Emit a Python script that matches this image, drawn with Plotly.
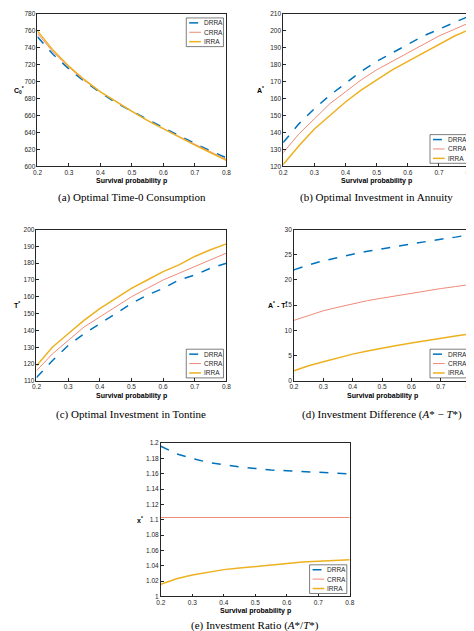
import plotly.graph_objects as go

p = [0.2,0.25,0.3,0.35,0.4,0.45,0.5,0.55,0.6,0.65,0.7,0.75,0.8]
series = ["DRRA","CRRA","IRRA"]
c0_drra = [753,732,715,700,687,675,665,655,645,636,627,618,610]
c0_crra = [757,735,717,701,688,676,665,654,644,635,626,617,608]
c0_irra = [760,737,718,702,688,676,665,654,644,634,625,616,607]
a_drra = [134,145,154,162,169,176,182,187,192,197,201,205,209]
a_crra = [128,139,148,157,164,171,177,182,187,192,197,201,205]
a_irra = [121,132,142,150,158,165,171,177,182,187,192,197,201]
t_drra = [112,122,131,138,144,150,156,161,165,170,173,177,180]
t_crra = [116,126,134,142,148,154,160,165,170,174,178,182,186]
t_irra = [119,130,138,146,153,159,165,170,175,179,184,188,191.5]
d_drra = [22,23,23.8,24.5,25.1,25.7,26.2,26.7,27.2,27.6,28.1,28.5,29]
d_crra = [12,13,13.9,14.6,15.3,15.9,16.4,16.9,17.4,17.8,18.3,18.7,19.1]
d_irra = [2,3,3.8,4.6,5.3,5.9,6.5,7,7.5,8,8.4,8.9,9.3]
x_drra = [1.196,1.186,1.180,1.175,1.172,1.169,1.167,1.165,1.164,1.163,1.162,1.161,1.160]
x_crra = [1.103]*13
x_irra = [1.016,1.023,1.028,1.032,1.035,1.037,1.039,1.041,1.043,1.045,1.046,1.047,1.048]

W, H = 474, 631
panels = [
    dict(box=(25,218,2,156), data=(c0_drra,c0_crra,c0_irra), yr=(600,780), dt=20,
         ylab="<b>C<sub>0</sub><sup>*</sup></b>", lx=6, leg="top",
         cap="(a) Optimal Time-0 Consumption", cy=188, ty=171),
    dict(box=(276,467,2,156), data=(a_drra,a_crra,a_irra), yr=(120,210), dt=10,
         ylab="<b>A<sup>*</sup></b>", lx=253, leg="bottom",
         cap="(b) Optimal Investment in Annuity", cy=188, ty=171),
    dict(box=(24,218,220,373), data=(t_drra,t_crra,t_irra), yr=(110,200), dt=10,
         ylab="<b>T<sup>*</sup></b>", lx=4, leg="bottom",
         cap="(c) Optimal Investment in Tontine", cy=407, ty=388),
    dict(box=(287,467,220,373), data=(d_drra,d_crra,d_irra), yr=(0,30), dt=5,
         ylab="<b>A<sup>*</sup> - T<sup>*</sup></b>", lx=270, leg="bottom",
         cap="(d) Investment Difference (<i>A</i>* − <i>T</i>*)", cy=407, ty=388),
    dict(box=(151,344,436,591), data=(x_drra,x_crra,x_irra), yr=(1,1.2), dt=0.02,
         ylab="<b>x<sup>*</sup></b>", lx=130, leg="bottom",
         cap="(e) Investment Ratio (<i>A</i>*/<i>T</i>*)", cy=620, ty=606),
]
colors = ["#0072BD","#EE8A78","#EDB120"]
dashes = ["dash","solid","solid"]
widths = [1.5,1.0,1.5]

fig = go.Figure()
layout = dict(width=W, height=H, margin=dict(l=0,r=0,t=0,b=0),
              paper_bgcolor="white", plot_bgcolor="white", showlegend=False,
              font=dict(family="Liberation Sans, Arial", size=7, color="#262626"))
ann, shapes = [], []
for i, pn in enumerate(panels):
    k = "" if i == 0 else str(i+1)
    x0,x1,y0,y1 = pn["box"]
    for j, s in enumerate(series):
        fig.add_trace(go.Scatter(x=p, y=pn["data"][j], name=s, mode="lines",
                                 line=dict(color=colors[j], dash=dashes[j], width=widths[j]),
                                 xaxis="x"+k, yaxis="y"+k))
    ax = dict(showline=True, linecolor="#262626", linewidth=0.6, mirror=True,
              ticks="inside", ticklen=3, tickcolor="#262626", showgrid=False, zeroline=False,
              tickfont=dict(size=6.5))
    layout["xaxis"+k] = dict(ax, domain=[x0/W, x1/W], range=[0.2,0.8], dtick=0.1,
                             anchor="y"+k, tickformat=".1f")
    layout["yaxis"+k] = dict(ax, domain=[1-y1/H, 1-y0/H], range=list(pn["yr"]), dtick=pn["dt"],
                             anchor="x"+k)
    # manual legend box (pixels)
    bw, bh = 38, 29
    bx1 = x1 - 3
    if pn["leg"] == "top":
        by0 = y0 + 4
    else:
        by0 = y1 - 3 - bh
    bx0 = bx1 - bw
    shapes.append(dict(type="rect", xref="paper", yref="paper",
                       x0=bx0/W, x1=bx1/W, y0=1-(by0+bh)/H, y1=1-by0/H,
                       line=dict(color="#262626", width=0.6), fillcolor="white"))
    for j, s in enumerate(series):
        yy = by0 + 5 + j*9.5
        shapes.append(dict(type="line", xref="paper", yref="paper",
                           x0=(bx0+3)/W, x1=(bx0+15)/W, y0=1-yy/H, y1=1-yy/H,
                           line=dict(color=colors[j], dash=dashes[j] if j == 0 else "solid",
                                     width=widths[j])))
        ann.append(dict(text=s, x=(bx0+16)/W, y=1-yy/H, xref="paper", yref="paper",
                        xanchor="left", yanchor="middle", showarrow=False,
                        font=dict(size=6.5, color="#262626")))
    ann.append(dict(text=pn["ylab"], x=pn["lx"]/W, y=1-(y0+y1)/2/H, xref="paper", yref="paper",
                    xanchor="center", yanchor="middle", showarrow=False, font=dict(size=7, color="black")))
    ann.append(dict(text="<b>Survival probability p</b>", x=(x0+x1)/2/W, y=1-pn["ty"]/H,
                    xref="paper", yref="paper", xanchor="center", yanchor="middle",
                    showarrow=False, font=dict(size=7, color="black")))
    ann.append(dict(text=pn["cap"], x=(x0+x1)/2/W, y=1-pn["cy"]/H, xref="paper", yref="paper",
                    xanchor="center", yanchor="middle", showarrow=False,
                    font=dict(family="Liberation Serif, DejaVu Serif", size=11, color="black")))
layout["annotations"] = ann
layout["shapes"] = shapes
fig.update_layout(**layout)
fig.write_html("out.html")
